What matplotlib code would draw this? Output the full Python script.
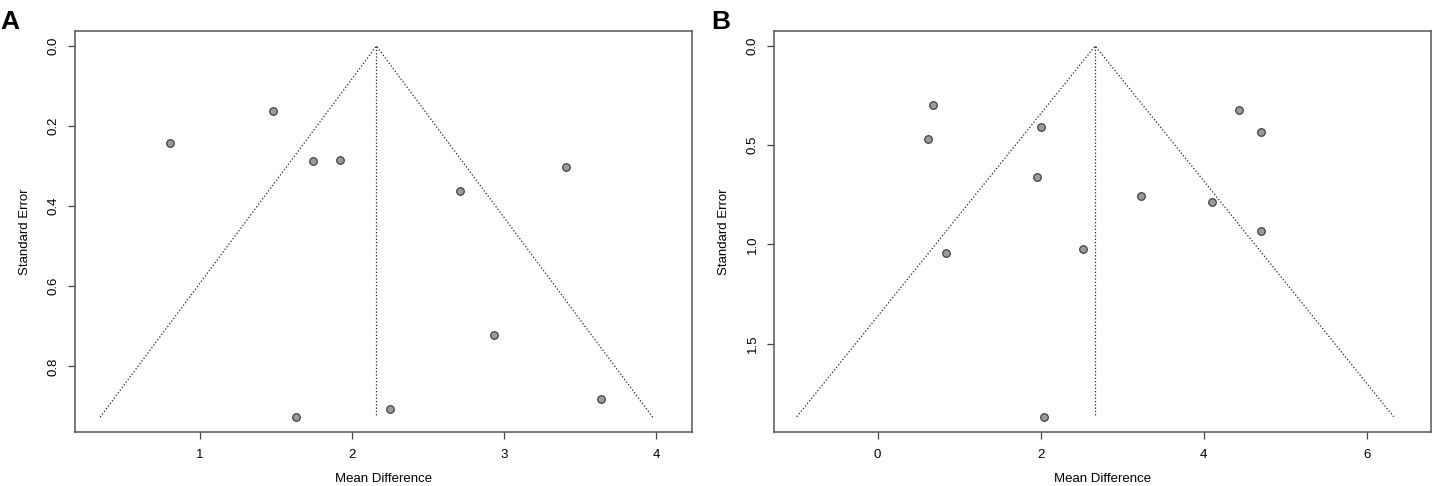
import matplotlib
matplotlib.use("Agg")
import matplotlib.pyplot as plt

plt.rcParams['font.family'] = ['Liberation Sans', 'DejaVu Sans']

# Panel A: mean differences and standard errors
md_a = [1.48, 0.80, 1.74, 1.92, 3.41, 2.71, 2.93, 3.64, 2.25, 1.63]
se_a = [0.163, 0.243, 0.288, 0.284, 0.302, 0.361, 0.721, 0.882, 0.907, 0.927]
pooled_a = 2.16
xticks_a = [1, 2, 3, 4]
yticks_a = [0.0, 0.2, 0.4, 0.6, 0.8]

# Panel B
md_b = [0.68, 0.62, 2.01, 1.96, 0.84, 2.52, 3.23, 4.10, 4.43, 4.71, 4.70, 2.04]
se_b = [0.298, 0.467, 0.407, 0.659, 1.042, 1.022, 0.756, 0.787, 0.323, 0.432, 0.933, 1.868]
pooled_b = 2.67
xticks_b = [0, 2, 4, 6]
yticks_b = [0.0, 0.5, 1.0, 1.5]


def funnel(ax, md, se, pooled, xticks, yticks, xlim, ylim):
    se_max = max(se)
    # pseudo 95% confidence limits
    ax.plot([pooled - 1.96 * se_max, pooled, pooled + 1.96 * se_max],
            [se_max, 0, se_max], linestyle=':', color='#222222', lw=0.9)
    ax.plot([pooled, pooled], [0, se_max], linestyle=':', color='#222222', lw=0.9)
    ax.scatter(md, se, s=30, facecolor='#9a9a9a', edgecolor='#333333', linewidth=0.8, zorder=3)
    ax.set_xlim(xlim)
    ax.set_ylim(ylim)
    ax.set_xticks(xticks)
    ax.set_xticklabels([str(t) for t in xticks])
    ax.set_yticks(yticks)
    ax.set_yticklabels(['%.1f' % t for t in yticks], rotation=90, va='center')
    ax.tick_params(length=5, width=0.9, color='#444444', labelsize=9.5, pad=7)
    ax.tick_params(axis='y', pad=6)
    for sp in ax.spines.values():
        sp.set_color('#555555')
        sp.set_linewidth(1.1)
    ax.set_xlabel('Mean Difference', fontsize=9.5, labelpad=9)
    ax.set_ylabel('Standard Error', fontsize=9.5, labelpad=12)


fig = plt.figure(figsize=(14.32, 4.86), dpi=100)
ax_a = fig.add_axes([0.0524, 0.1111, 0.4308, 0.8251])
ax_b = fig.add_axes([0.5405, 0.1111, 0.4588, 0.8251])

funnel(ax_a, md_a, se_a, pooled_a, xticks_a, yticks_a, (0.178, 4.235), (0.964, -0.0375))
funnel(ax_b, md_b, se_b, pooled_b, xticks_b, yticks_b, (-1.271, 6.79), (1.945, -0.0756))

fig.text(0.0, 0.955, 'A', fontsize=19, fontweight='bold', va='center', ha='left')
fig.text(0.497, 0.955, 'B', fontsize=19, fontweight='bold', va='center', ha='left')

fig.savefig('out.png', dpi=100)
